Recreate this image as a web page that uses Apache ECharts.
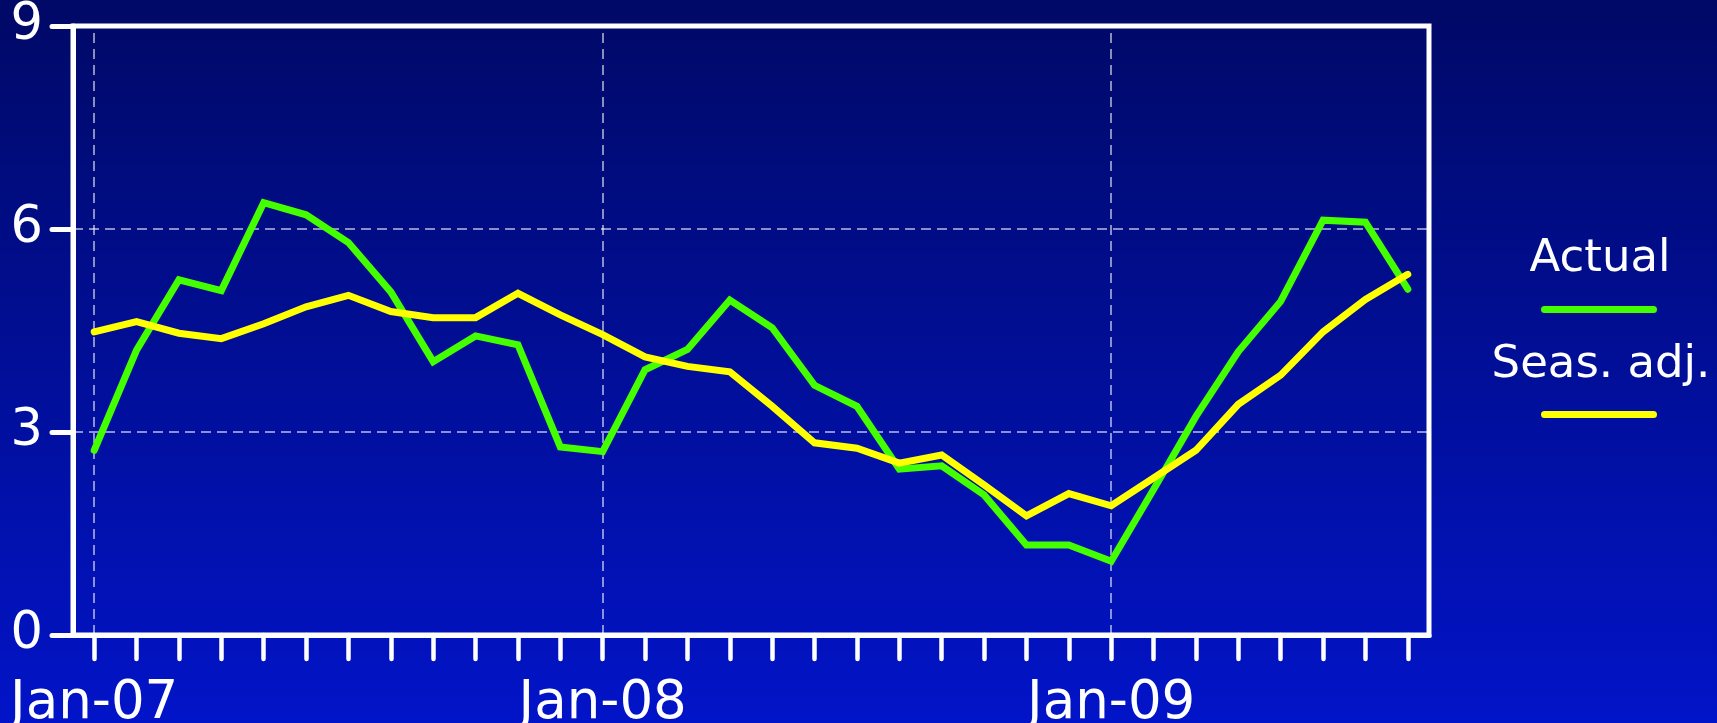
<!DOCTYPE html>
<html>
<head>
<meta charset="utf-8">
<script src="https://cdn.jsdelivr.net/npm/echarts@6/dist/echarts.min.js"></script>
<style>
html,body{margin:0;padding:0;width:1717px;height:723px;overflow:hidden;background:#000966;}
#chart{width:1717px;height:723px;}
</style>
</head>
<body>
<div id="chart"></div>
<script>
const months = ['Jan-07','Feb-07','Mar-07','Apr-07','May-07','Jun-07','Jul-07','Aug-07','Sep-07','Oct-07','Nov-07','Dec-07',
  'Jan-08','Feb-08','Mar-08','Apr-08','May-08','Jun-08','Jul-08','Aug-08','Sep-08','Oct-08','Nov-08','Dec-08',
  'Jan-09','Feb-09','Mar-09','Apr-09','May-09','Jun-09','Jul-09','Aug-09'];
const labelledMonths = ['Jan-07','Jan-08','Jan-09'];
const actual = [2.73, 4.21, 5.25, 5.09, 6.39, 6.21, 5.80, 5.07, 4.04, 4.42, 4.29, 2.78,
  2.71, 3.92, 4.22, 4.95, 4.54, 3.69, 3.38, 2.45, 2.50, 2.07, 1.33, 1.33,
  1.09, 2.15, 3.23, 4.19, 4.93, 6.13, 6.10, 5.11];
const seasAdj = [4.48, 4.63, 4.46, 4.38, 4.60, 4.85, 5.02, 4.78, 4.69, 4.69, 5.05, 4.73,
  4.44, 4.11, 3.97, 3.89, 3.38, 2.84, 2.76, 2.54, 2.66, 2.22, 1.76, 2.09,
  1.91, 2.32, 2.73, 3.41, 3.84, 4.48, 4.96, 5.33];
const seriesNames = ['Actual', 'Seas. adj.'];
const yTicks = [0, 3, 6, 9];

const FONT = 'DejaVu Sans';
const chart = echarts.init(document.getElementById('chart'), null, {renderer: 'canvas'});
const gridDash = {color: 'rgba(255,255,255,0.72)', width: 1.5, type: [10, 6]};

chart.setOption({
  animation: false,
  backgroundColor: {
    type: 'linear', x: 0, y: 0, x2: 0, y2: 1,
    colorStops: [{offset: 0, color: '#000966'}, {offset: 1, color: '#0214c8'}]
  },
  grid: {
    left: 73, top: 26, width: 1356, height: 609,
    outerBoundsMode: 'none', containLabel: false,
    show: true, borderColor: '#ffffff', borderWidth: 5, backgroundColor: 'transparent'
  },
  legend: {
    orient: 'vertical', left: 1536, top: 301, itemWidth: 116, itemHeight: 7, itemGap: 98,
    icon: 'path://M3.5,0 H112.5 A3.5,3.5 0 0 1 112.5,7 H3.5 A3.5,3.5 0 0 1 3.5,0 Z',
    formatter: () => '', textStyle: {fontSize: 1}, selectedMode: false,
    data: seriesNames
  },
  graphic: [
    {type: 'text', style: {text: seriesNames[0], x: 1600, y: 259, align: 'center', verticalAlign: 'middle', fill: '#fff', font: '45px "DejaVu Sans"'}},
    {type: 'text', style: {text: seriesNames[1], x: 1601, y: 365, align: 'center', verticalAlign: 'middle', fill: '#fff', font: '45px "DejaVu Sans"'}}
  ],
  xAxis: {
    type: 'category', data: months, boundaryGap: true,
    axisLine: {show: true, lineStyle: {color: '#fff', width: 5}},
    axisTick: {show: true, alignWithLabel: true, interval: 0, length: 24, lineStyle: {color: '#fff', width: 4.5, cap: 'round'}},
    axisLabel: {
      interval: 0, margin: 43, color: '#fff', fontFamily: FONT, fontSize: 53,
      formatter: v => labelledMonths.indexOf(v) >= 0 ? v : ''
    },
    splitLine: {show: false}
  },
  yAxis: {
    type: 'value', min: yTicks[0], max: yTicks[yTicks.length - 1], interval: 3,
    axisLine: {show: true, lineStyle: {color: '#fff', width: 5}},
    axisTick: {show: true, length: 21, lineStyle: {color: '#fff', width: 5, cap: 'round'}},
    axisLabel: {margin: 30, color: '#fff', fontFamily: FONT, fontSize: 51, padding: [5, 0, 0, 0]},
    splitLine: {show: true, lineStyle: gridDash}
  },
  series: [
    {
      name: seriesNames[0], type: 'line', data: actual, showSymbol: false, symbol: 'none',
      color: '#44ff00',
      lineStyle: {color: '#44ff00', width: 7, cap: 'round', join: 'miter'},
      z: 3,
      markLine: {
        silent: true, symbol: 'none', label: {show: false},
        lineStyle: gridDash, z: 1,
        data: labelledMonths.map(m => ({xAxis: m}))
      }
    },
    {
      name: seriesNames[1], type: 'line', data: seasAdj, showSymbol: false, symbol: 'none',
      color: '#ffff00',
      lineStyle: {color: '#ffff00', width: 7, cap: 'round', join: 'miter'},
      z: 4
    }
  ]
});
</script>
</body>
</html>
